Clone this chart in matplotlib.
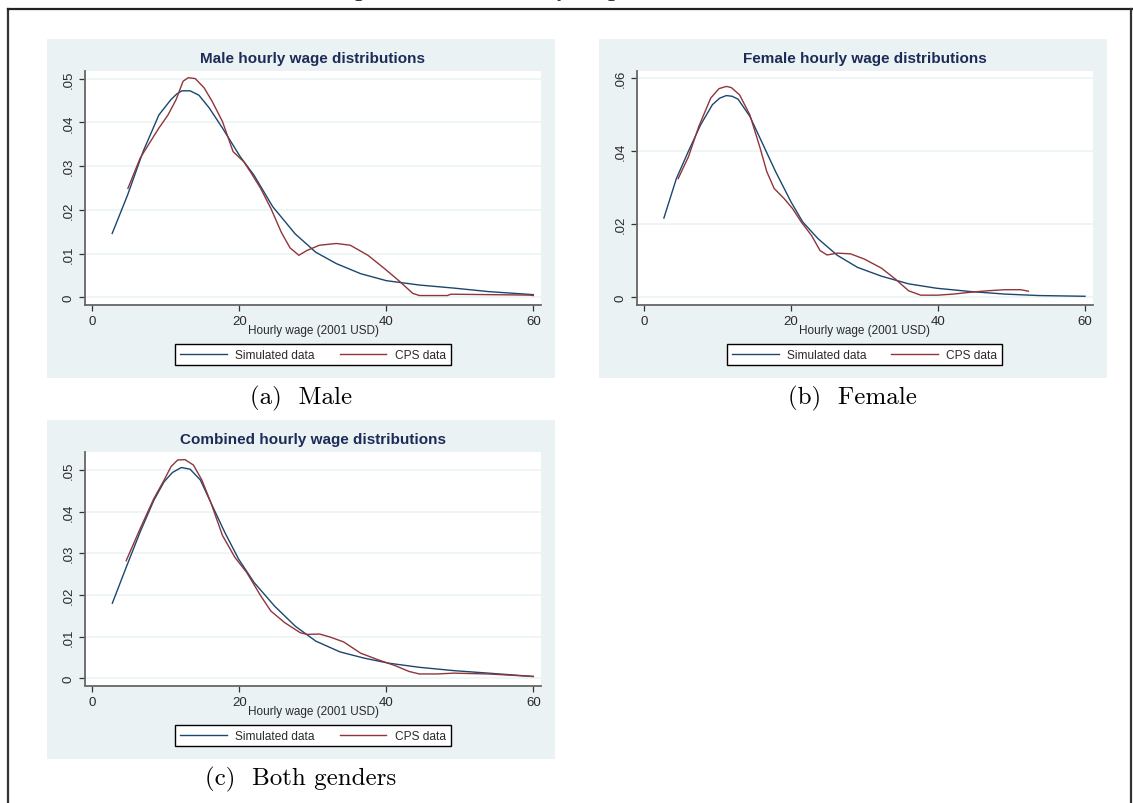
import matplotlib
matplotlib.use('Agg')
import matplotlib.pyplot as plt
from matplotlib.patches import Rectangle
from matplotlib.lines import Line2D

# ---------------- data ----------------
male_sim_x = [2.7, 4.8, 6.9, 9.06, 10.7, 11.5, 12.2, 13.3, 14.5, 15.9, 17.7, 20.1, 22.0, 24.55,
              27.6, 30.4, 33.2, 36.5, 40.0, 44.5, 49.2, 53.9, 60.0]
male_sim_y = [0.0146, 0.0234, 0.0333, 0.0417, 0.0452, 0.0465, 0.0472, 0.0472, 0.0462, 0.0433,
              0.0387, 0.0322, 0.0279, 0.0207, 0.0145, 0.0103, 0.0077, 0.0054, 0.0038, 0.0028,
              0.0021, 0.0013, 0.0006]
male_cps_x = [4.84, 6.5, 7.9, 9.06, 10.3, 11.4, 12.35, 13.05, 14.0, 15.2, 16.3, 17.7, 19.15,
              20.6, 21.5, 22.9, 24.3, 25.7, 26.9, 28.1, 29.2, 30.9, 33.2, 35.1, 37.5, 39.8,
              41.7, 43.6, 44.5, 48.3, 48.8, 59.5, 60.0]
male_cps_y = [0.0249, 0.0318, 0.0356, 0.0387, 0.0417, 0.0452, 0.0494, 0.0502, 0.0500, 0.0479,
              0.0448, 0.0402, 0.0333, 0.0310, 0.0287, 0.0249, 0.0203, 0.0149, 0.0113, 0.0096,
              0.0107, 0.0119, 0.0123, 0.0119, 0.0096, 0.0065, 0.0038, 0.0009, 0.0004, 0.0004,
              0.0007, 0.0005, 0.0004]

female_sim_x = [2.7, 4.4, 6.0, 7.7, 9.3, 10.3, 11.2, 12.0, 12.8, 14.4, 16.0, 17.9, 20.0, 21.6,
                23.7, 26.3, 29.05, 32.3, 36.0, 39.8, 44.4, 49.1, 53.7, 60.0]
female_sim_y = [0.0217, 0.0325, 0.0398, 0.0472, 0.0527, 0.0545, 0.0552, 0.0550, 0.0542, 0.0495,
                0.0426, 0.0344, 0.0261, 0.0206, 0.0160, 0.0115, 0.0082, 0.0058, 0.0037, 0.0025,
                0.0016, 0.0009, 0.0005, 0.0003]
female_cps_x = [4.65, 6.05, 7.44, 9.07, 10.2, 11.2, 11.86, 13.0, 14.4, 15.8, 16.7, 17.7, 19.07,
                20.2, 21.4, 22.8, 23.95, 24.9, 26.3, 28.1, 29.95, 32.3, 34.2, 36.0, 37.65,
                39.95, 42.1, 44.4, 46.7, 49.1, 51.2, 52.3]
female_cps_y = [0.0325, 0.0385, 0.0467, 0.0545, 0.0571, 0.0577, 0.0574, 0.0554, 0.0499, 0.0408,
                0.0344, 0.0298, 0.0270, 0.0243, 0.0206, 0.0169, 0.0128, 0.0116, 0.0121, 0.0119,
                0.0105, 0.0080, 0.0050, 0.0018, 0.0006, 0.0006, 0.0009, 0.0014, 0.0018, 0.0021,
                0.0021, 0.0017]

comb_sim_x = [2.72, 4.6, 6.5, 8.36, 9.77, 10.9, 12.1, 13.3, 14.7, 16.3, 18.0, 19.9, 22.0, 24.8,
              27.6, 30.4, 33.7, 37.0, 40.3, 44.5, 49.2, 53.9, 60.0]
comb_sim_y = [0.0180, 0.0266, 0.0351, 0.0427, 0.0472, 0.0494, 0.0506, 0.0502, 0.0476, 0.0415,
              0.0351, 0.0286, 0.0230, 0.0173, 0.0125, 0.0089, 0.0063, 0.0048, 0.0036, 0.0026,
              0.0018, 0.0012, 0.0004]
comb_cps_x = [4.6, 6.5, 8.36, 9.77, 10.7, 11.6, 12.6, 13.75, 14.9, 16.1, 17.7, 19.4, 21.0, 22.9,
              24.3, 26.2, 28.3, 29.25, 30.9, 32.3, 34.2, 36.5, 38.9, 41.2, 43.1, 44.5, 46.9,
              49.2, 53.9, 60.0]
comb_cps_y = [0.0282, 0.0359, 0.0431, 0.0476, 0.0508, 0.0524, 0.0525, 0.0512, 0.0476, 0.0423,
              0.0343, 0.0290, 0.0254, 0.0198, 0.0161, 0.0133, 0.0109, 0.0105, 0.0106, 0.0099,
              0.0087, 0.0060, 0.0044, 0.0030, 0.0016, 0.0010, 0.0010, 0.0012, 0.0010, 0.0004]

x_ticks = [0, 20, 40, 60]
x_tick_labels = ['0', '20', '40', '60']
y_ticks_male = [0, 0.01, 0.02, 0.03, 0.04, 0.05]
y_labels_male = ['0', '.01', '.02', '.03', '.04', '.05']
y_ticks_female = [0, 0.02, 0.04, 0.06]
y_labels_female = ['0', '.02', '.04', '.06']

titles = ['Male hourly wage distributions', 'Female hourly wage distributions',
          'Combined hourly wage distributions']
captions = ['(a)  Male', '(b)  Female', '(c)  Both genders']
series_names = ['Simulated data', 'CPS data']
x_label = 'Hourly wage (2001 USD)'
fig_caption = 'Figure 4: Fitted hourly wage distributions'

# ---------------- styling ----------------
W, H = 1133, 804
NAVY = '#1a476f'
MAROON = '#90353b'
BG = '#eaf2f3'
TITLE_C = '#1c2b57'
TXT = '#2a2a2a'
SANS = ['Liberation Sans', 'DejaVu Sans']
SERIF = ['cmr10', 'DejaVu Serif']

fig = plt.figure(figsize=(W / 100, H / 100), dpi=100)
fig.patch.set_facecolor('white')


def fbox(x0, y0, x1, y1):
    return [x0 / W, 1 - y1 / H, (x1 - x0) / W, (y1 - y0) / H]


def fpt(x, y):
    return x / W, 1 - y / H


# outer frame (LaTeX figure box) and the page caption cut off at the top
fig.add_artist(Line2D([8 / W, 8 / W], [0, 1 - 10 / H], transform=fig.transFigure,
                      color='#333333', lw=1.6))
fig.add_artist(Line2D([8 / W, 1], [1 - 10 / H, 1 - 10 / H], transform=fig.transFigure,
                      color='#222222', lw=1.6))
fig.add_artist(Line2D([1131 / W, 1131 / W], [0, 1 - 10 / H], transform=fig.transFigure,
                      color='#333333', lw=1.6))
fig.text(*fpt(548, -3.5), fig_caption, family=SERIF, fontsize=17, ha='center',
         va='baseline', color='black')

panels = [
    dict(dx=0, dy=0, sx=male_sim_x, sy=male_sim_y, cx=male_cps_x, cy=male_cps_y,
         yt=y_ticks_male, yl=y_labels_male, ylim=(-0.00165, 0.0518)),
    dict(dx=551.7, dy=0, sx=female_sim_x, sy=female_sim_y, cx=female_cps_x, cy=female_cps_y,
         yt=y_ticks_female, yl=y_labels_female, ylim=(-0.00195, 0.0620)),
    dict(dx=0, dy=381, sx=comb_sim_x, sy=comb_sim_y, cx=comb_cps_x, cy=comb_cps_y,
         yt=y_ticks_male, yl=y_labels_male, ylim=(-0.00177, 0.0544)),
]

for i, p in enumerate(panels):
    dx, dy = p['dx'], p['dy']
    # graph region background
    fig.add_artist(Rectangle(fpt(47 + dx, 379 + dy), 508 / W, 339 / H,
                             transform=fig.transFigure, facecolor=BG, edgecolor='none',
                             zorder=-5))
    ax = fig.add_axes(fbox(85 + dx, 71.7 + dy, 541 + dx, 305.5 + dy))
    ax.set_facecolor('white')
    l1, = ax.plot(p['sx'], p['sy'], color=NAVY, lw=1.0, solid_joinstyle='round')
    l2, = ax.plot(p['cx'], p['cy'], color=MAROON, lw=1.0, solid_joinstyle='round')
    ax.set_xlim(-1.0, 61.05)
    ax.set_ylim(*p['ylim'])
    ax.set_xticks(x_ticks)
    ax.set_xticklabels(x_tick_labels, family=SANS, fontsize=9.5, color=TXT)
    ax.set_yticks(p['yt'])
    ax.set_yticklabels(p['yl'], family=SANS, fontsize=9.5, color=TXT, rotation=90,
                       va='center')
    ax.tick_params(axis='both', length=4, width=0.9, color='#333333', pad=3.5)
    for s in ['top', 'right']:
        ax.spines[s].set_visible(False)
    for s in ['left', 'bottom']:
        ax.spines[s].set_color('#666666')
        ax.spines[s].set_linewidth(1.3)
    ax.grid(axis='y', color=BG, lw=1.1)
    ax.set_axisbelow(True)

    fig.text(*fpt(313 + dx, 59.5 + dy), titles[i], family=SANS, fontsize=11,
             fontweight='bold', color=TITLE_C, ha='center', va='center')
    fig.text(*fpt(313 + dx, 331.3 + dy), x_label, family=SANS, fontsize=8.5, color=TXT,
             ha='center', va='center')
    leg = ax.legend([l1, l2], series_names, loc='center', ncol=2,
                    bbox_to_anchor=fpt(313 + dx, 355.7 + dy), bbox_transform=fig.transFigure,
                    prop=dict(family=SANS, size=8.6), frameon=True, fancybox=False,
                    edgecolor='black', facecolor='white', framealpha=1,
                    handlelength=3.9, handletextpad=0.7, columnspacing=2.1,
                    borderpad=0.4)
    leg.get_frame().set_linewidth(1.0)
    for t in leg.get_texts():
        t.set_color(TXT)

    fig.text(*fpt(301 + dx, 398.5 + dy), captions[i], family=SERIF, fontsize=18,
             color='black', ha='center', va='center')

fig.savefig('out.png', dpi=100, facecolor='white')
